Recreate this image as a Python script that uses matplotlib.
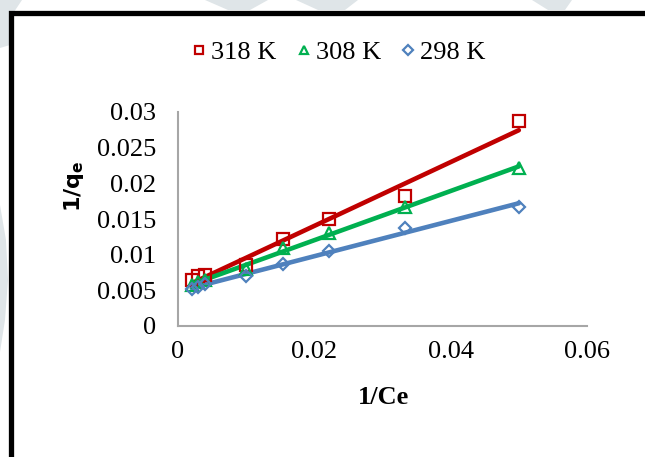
import numpy as np
import matplotlib
matplotlib.use("Agg")
import matplotlib.pyplot as plt
from matplotlib.patches import Rectangle, Polygon
from matplotlib.lines import Line2D

# 1/Ce values shared by the three temperatures
inv_ce = [0.002, 0.003, 0.004, 0.010, 0.0154, 0.0222, 0.0333, 0.050]

inv_qe_318 = [0.0065, 0.0070, 0.0071, 0.0086, 0.0122, 0.0150, 0.0182, 0.0287]
inv_qe_308 = [0.0058, 0.0062, 0.0065, 0.0080, 0.0109, 0.0130, 0.0167, 0.0222]
inv_qe_298 = [0.0052, 0.0055, 0.0059, 0.0070, 0.0087, 0.0105, 0.0138, 0.0167]

series_labels = ["318 K", "308 K", "298 K"]
x_ticks = [0, 0.02, 0.04, 0.06]
x_tick_labels = ["0", "0.02", "0.04", "0.06"]
y_ticks = [0, 0.005, 0.01, 0.015, 0.02, 0.025, 0.03]
y_tick_labels = ["0", "0.005", "0.01", "0.015", "0.02", "0.025", "0.03"]

W, H = 645, 457
fig = plt.figure(figsize=(W / 100, H / 100), dpi=100)
fig.patch.set_facecolor("white")

serif = ["Liberation Serif", "DejaVu Serif"]


def fx(px):
    return px / W


def fy(py):
    return 1 - py / H


# faint background watermark pieces
wm = "#dfe5e8"
for pts in [
    [(0, 0), (22, 0), (14, 12), (10, 45), (0, 48)],
    [(205, 0), (268, 0), (250, 10), (228, 10)],
    [(296, 0), (358, 0), (345, 10), (318, 10)],
    [(532, 0), (572, 0), (565, 10), (548, 10)],
    [(0, 205), (6, 240), (8, 280), (5, 320), (0, 352)],
]:
    fig.patches.append(Polygon([(fx(a), fy(b)) for a, b in pts], closed=True,
                               transform=fig.transFigure, facecolor=wm,
                               edgecolor="none", zorder=0))

# black frame, running off the right and bottom edges
fig.patches.append(Rectangle((fx(10.5), fy(470)), fx(700), fy(12.5) - fy(470),
                             transform=fig.transFigure, fill=False,
                             edgecolor="black", linewidth=3.8, zorder=1))

ax = fig.add_axes([fx(178), fy(326), fx(587) - fx(178), fy(112) - fy(326)])
ax.set_facecolor("none")

styles = [
    (inv_qe_318, "#C00000", "s", 8.5),
    (inv_qe_308, "#00B050", "^", 8.5),
    (inv_qe_298, "#4F81BD", "D", 6.5),
]

x = np.array(inv_ce)
handles = []
for (y, color, marker, ms), label in zip(styles, series_labels):
    y = np.array(y)
    slope, intercept = np.polyfit(x, y, 1)
    xs = np.array([x.min(), x.max()])
    ax.plot(xs, slope * xs + intercept, color=color, linewidth=3.3,
            solid_capstyle="round", zorder=2)
    ax.plot(x, y, linestyle="none", marker=marker, markersize=ms,
            markerfacecolor="none", markeredgecolor=color,
            markeredgewidth=1.6, zorder=3)
    handles.append(Line2D([], [], linestyle="none", marker=marker,
                          markersize=ms * 0.75, markerfacecolor="none",
                          markeredgecolor=color, markeredgewidth=1.6,
                          label=label))

ax.set_xlim(0, 0.06)
ax.set_ylim(0, 0.03)
ax.set_xticks(x_ticks)
ax.set_xticklabels(x_tick_labels)
ax.set_yticks(y_ticks)
ax.set_yticklabels(y_tick_labels)
ax.tick_params(length=0, labelsize=19)
ax.tick_params(axis="y", pad=16)
ax.tick_params(axis="x", pad=11)
for lbl in ax.get_xticklabels() + ax.get_yticklabels():
    lbl.set_family(serif)

for side in ["top", "right"]:
    ax.spines[side].set_visible(False)
for side in ["left", "bottom"]:
    ax.spines[side].set_color("#a6a6a6")
    ax.spines[side].set_linewidth(1.5)

fig.text(fx(383), fy(398), "1/Ce", ha="center", va="center",
         fontsize=19, fontweight="bold", family=serif)
fig.text(fx(74), fy(186), r"$\mathbf{1/q_e}$", ha="center", va="center",
         rotation=90, fontsize=16, family=["Liberation Sans", "DejaVu Sans"])

fig.legend(handles=handles, loc="center", bbox_to_anchor=(fx(337), fy(52)),
           ncol=3, frameon=False, handletextpad=0.05, columnspacing=0.65,
           handlelength=0.8, prop={"family": serif, "size": 19})

fig.savefig("out.png", dpi=100)
